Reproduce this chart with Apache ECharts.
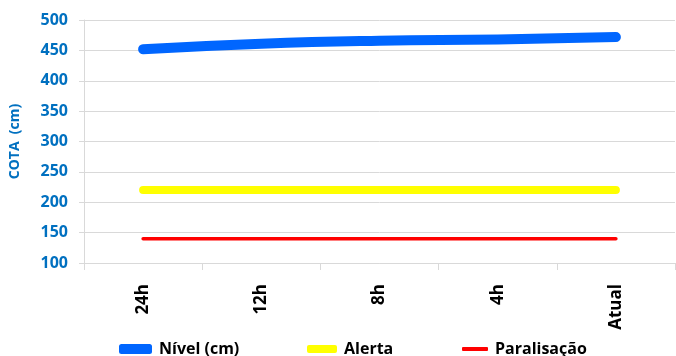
<!DOCTYPE html>
<html>
<head>
<meta charset="utf-8">
<script src="https://cdn.jsdelivr.net/npm/echarts@6/dist/echarts.min.js"></script>
<style>
  html, body { margin: 0; padding: 0; background: #fff; }
  #chart { width: 676px; height: 356px; }
</style>
</head>
<body>
<div id="chart"></div>
<script>
// dados do gráfico
var categorias = ["24h", "12h", "8h", "4h", "Atual"];
var nivel = [452, 461, 466, 468, 472];
var alerta = [220, 220, 220, 220, 220];
var paralisacao = [140, 140, 140, 140, 140];
var yMin = 100, yMax = 500, yStep = 50;

var fonte = "'Open Sans', 'Liberation Sans', sans-serif";

function legenda(nome, left, w, h) {
  return {
    data: [nome],
    left: left,
    top: 336,
    itemWidth: w,
    itemHeight: h,
    itemGap: 0,
    icon: "roundRect",
    textStyle: { fontFamily: fonte, fontSize: 16, fontWeight: "bold", color: "#000", padding: [0, 0, 0, 2] }
  };
}

var chart = echarts.init(document.getElementById("chart"));
chart.setOption({
  animation: false,
  grid: { left: 84, right: 1, top: 20, bottom: 93, containLabel: false },
  legend: [
    legenda("Nível (cm)", 114, 33, 10),
    legenda("Alerta", 302, 30, 8),
    legenda("Paralisação", 457, 26, 4)
  ],
  xAxis: {
    type: "category",
    data: categorias,
    boundaryGap: true,
    axisLine: { lineStyle: { color: "#d9d9d9", width: 1 } },
    axisTick: { show: true, length: 7, lineStyle: { color: "#d9d9d9" } },
    axisLabel: {
      rotate: 90,
      margin: 21,
      fontFamily: fonte,
      fontSize: 17,
      fontWeight: "bold",
      color: "#000"
    }
  },
  yAxis: {
    type: "value",
    min: yMin,
    max: yMax,
    interval: yStep,
    name: "COTA  (cm)",
    nameLocation: "middle",
    nameGap: 62,
    nameTextStyle: { fontFamily: fonte, fontSize: 14, fontWeight: "bold", color: "#0070C0" },
    axisLine: { show: true, lineStyle: { color: "#d9d9d9" } },
    axisTick: { show: true, length: 5, lineStyle: { color: "#d9d9d9" } },
    splitLine: { lineStyle: { color: "#d9d9d9" } },
    axisLabel: {
      margin: 16,
      fontFamily: fonte,
      fontSize: 16,
      fontWeight: "bold",
      color: "#0070C0"
    }
  },
  series: [
    {
      name: "Nível (cm)",
      type: "line",
      data: nivel,
      smooth: true,
      symbol: "none",
      itemStyle: { color: "#0066FF" },
      lineStyle: { color: "#0066FF", width: 10, cap: "round" }
    },
    {
      name: "Alerta",
      type: "line",
      data: alerta,
      symbol: "none",
      itemStyle: { color: "#FFFF00" },
      lineStyle: { color: "#FFFF00", width: 8, cap: "round" }
    },
    {
      name: "Paralisação",
      type: "line",
      data: paralisacao,
      symbol: "none",
      itemStyle: { color: "#FF0000" },
      lineStyle: { color: "#FF0000", width: 3.5, cap: "round" }
    }
  ]
});
</script>
</body>
</html>
